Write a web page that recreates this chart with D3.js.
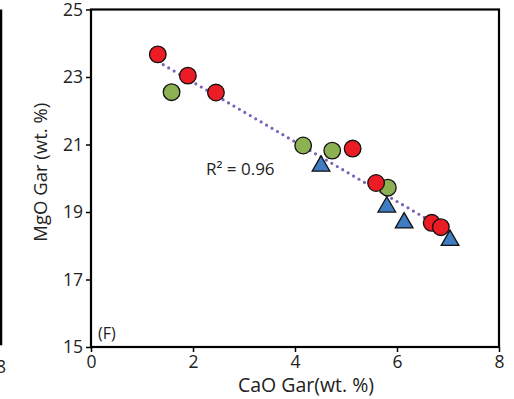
<!DOCTYPE html>
<html>
<head>
<meta charset="utf-8">
<script src="https://cdn.jsdelivr.net/npm/d3@7"></script>
<style>
  body { margin: 0; background: #fff; }
  text { font-family: "Open Sans", sans-serif; fill: #222; }
</style>
</head>
<body>
<svg width="514" height="399"></svg>
<script>
  // CaO vs MgO in garnet, three groups
  const redCaO = [1.31, 1.90, 2.45, 5.13, 5.59, 6.68, 6.86];
  const redMgO = [23.67, 23.04, 22.54, 20.88, 19.86, 18.68, 18.55];
  const greenCaO = [1.58, 4.16, 4.73, 5.82];
  const greenMgO = [22.55, 20.97, 20.82, 19.72];
  const blueCaO = [4.51, 5.80, 6.14, 7.04];
  const blueMgO = [20.36, 19.15, 18.68, 18.16];
  const xTicks = [0, 2, 4, 6, 8];
  const yTicks = [15, 17, 19, 21, 23, 25];
  const r2Label = 'R² = 0.96';

  const svg = d3.select('svg');
  const margin = { left: 91, right: 15, top: 9.5, bottom: 52 };
  const width = +svg.attr('width');
  const height = +svg.attr('height');

  const xScale = d3.scaleLinear().domain([0, 8]).range([margin.left, width - margin.right]);
  const yScale = d3.scaleLinear().domain([15, 25]).range([height - margin.bottom, margin.top]);

  // edge of the neighbouring panel
  svg.append('line')
    .attr('x1', 1).attr('x2', 1)
    .attr('y1', margin.top).attr('y2', yScale(15.05))
    .attr('stroke', '#000').attr('stroke-width', 2.5);
  svg.append('text')
    .attr('x', -4).attr('y', 373)
    .attr('font-size', 17.5)
    .text('8');

  const xAxis = d3.axisBottom(xScale).tickValues(xTicks).tickSize(5).tickPadding(4);
  const yAxis = d3.axisLeft(yScale).tickValues(yTicks).tickSize(5).tickPadding(3);

  const xAxisG = svg.append('g')
    .attr('transform', `translate(0,${yScale(15)})`)
    .call(xAxis);
  const yAxisG = svg.append('g')
    .attr('transform', `translate(${xScale(0)},0)`)
    .call(yAxis);
  [xAxisG, yAxisG].forEach(g => {
    g.select('.domain').remove();
    g.selectAll('.tick line').attr('stroke', '#000').attr('stroke-width', 1.5);
    g.selectAll('.tick text')
      .attr('font-size', 17.5)
      .attr('fill', '#222')
      .style('font-family', '"Open Sans", sans-serif');
  });

  svg.append('rect')
    .attr('x', xScale(0)).attr('y', yScale(25))
    .attr('width', xScale(8) - xScale(0))
    .attr('height', yScale(15) - yScale(25))
    .attr('fill', 'none')
    .attr('stroke', '#000')
    .attr('stroke-width', 2.2);

  // trendline: least squares over all points
  const allX = redCaO.concat(greenCaO, blueCaO);
  const allY = redMgO.concat(greenMgO, blueMgO);
  const mx = d3.mean(allX), my = d3.mean(allY);
  const slope = d3.sum(allX, (x, i) => (x - mx) * (allY[i] - my)) /
    d3.sum(allX, x => (x - mx) * (x - mx));
  const intercept = my - slope * mx;
  const xExt = d3.extent(allX);
  svg.append('line')
    .attr('x1', xScale(xExt[0])).attr('y1', yScale(intercept + slope * xExt[0]))
    .attr('x2', xScale(xExt[1])).attr('y2', yScale(intercept + slope * xExt[1]))
    .attr('stroke', '#7a62b6')
    .attr('stroke-width', 3.2)
    .attr('stroke-linecap', 'round')
    .attr('stroke-dasharray', '0,6.3');

  const circles = (xs, ys, color) => {
    svg.append('g').selectAll('circle')
      .data(xs.map((x, i) => [x, ys[i]]))
      .enter().append('circle')
        .attr('cx', d => xScale(d[0]))
        .attr('cy', d => yScale(d[1]))
        .attr('r', 8.3)
        .attr('fill', color)
        .attr('stroke', '#111')
        .attr('stroke-width', 1.3);
  };
  circles(greenCaO, greenMgO, '#8cb152');
  circles(redCaO, redMgO, '#ec1c24');

  svg.append('g').selectAll('path')
    .data(blueCaO.map((x, i) => [x, blueMgO[i]]))
    .enter().append('path')
      .attr('transform', d => `translate(${xScale(d[0])},${yScale(d[1])})`)
      .attr('d', d3.symbol().type(d3.symbolTriangle).size(135))
      .attr('fill', '#3e7dc1')
      .attr('stroke', '#111')
      .attr('stroke-width', 1.3);

  svg.append('text')
    .attr('x', 206).attr('y', 175)
    .attr('font-size', 17)
    .text(r2Label);

  svg.append('text')
    .attr('x', 98).attr('y', 339)
    .attr('font-size', 16)
    .text('(F)');

  svg.append('text')
    .attr('x', 306).attr('y', 392)
    .attr('text-anchor', 'middle')
    .attr('font-size', 19.5)
    .text('CaO Gar(wt. %)');

  svg.append('text')
    .attr('transform', `translate(47,${(yScale(15) + yScale(25)) / 2 - 6}) rotate(-90)`)
    .attr('text-anchor', 'middle')
    .attr('font-size', 18.5)
    .text('MgO Gar (wt. %)');
</script>
</body>
</html>
